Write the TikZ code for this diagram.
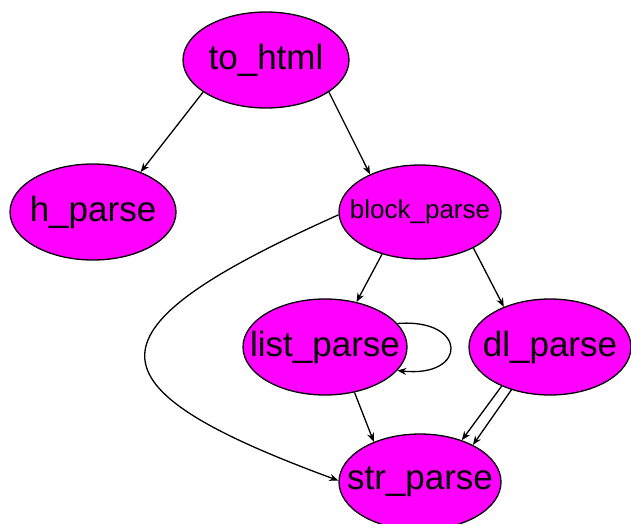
\documentclass[tikz,border=0pt]{standalone}
\usepackage{fontspec}
\setmainfont{Liberation Sans}
\usetikzlibrary{shapes.geometric,arrows.meta}
\definecolor{nodefill}{RGB}{255,0,255}
\begin{document}
\begin{tikzpicture}[x=1pt,y=-1pt,
  fn/.style={ellipse,draw=black,fill=nodefill,line width=1.3pt,inner sep=0pt,
    minimum width=166pt,minimum height=96pt,font=\fontsize{35}{40}\selectfont},
  fnsmall/.style={fn,font=\fontsize{26}{30}\selectfont},
  edge/.style={line width=1.3pt,-{Stealth[length=9pt,width=7pt]}}]
\useasboundingbox (0,0) rectangle (631,524);
\node[fn] (tohtml) at (266,60) {\makebox[0pt]{to\_html}};
\node[fn] (hparse) at (93,212) {\makebox[0pt]{h\_parse}};
\node[fnsmall,minimum width=162pt,minimum height=94pt] (block) at (420,212) {\makebox[0pt]{block\_parse}};
\node[fn,minimum width=164pt] (list) at (325,347) {\makebox[0pt]{list\_parse}};
\node[fn,minimum width=162pt] (dl) at (550,347) {\makebox[0pt]{dl\_parse}};
\node[fn,minimum width=162pt] (str) at (420,482) {\makebox[0pt]{str\_parse}};
\draw[edge] (tohtml.207) -- (hparse.40);
\draw[edge] (tohtml.333) -- (block.143);
\draw[edge] (block.228) -- (list.55);
\draw[edge] (block.326) -- (dl.139);
\draw[edge] (block.182) .. controls (81,330) and (81,386) .. (str.179);
\draw[edge] (list.18) .. controls (468,318) and (468,378) .. (list.-18);
\draw[edge] (list.303) -- (str.139);
\draw[edge] (dl.219) -- (str.45);
\draw[edge] (dl.228) -- (str.35);
\end{tikzpicture}
\end{document}
